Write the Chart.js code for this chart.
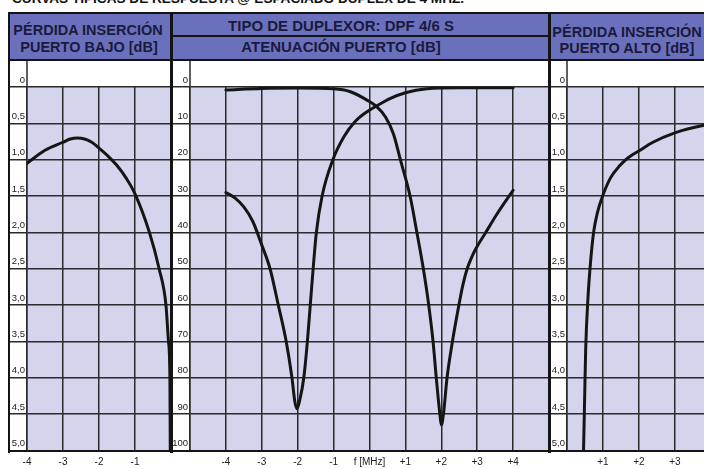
<!DOCTYPE html>
<html><head><meta charset="utf-8">
<script src="https://cdn.jsdelivr.net/npm/chart.js@4.4.0/dist/chart.umd.min.js"></script>
<style>
html,body{margin:0;padding:0;background:#fff;overflow:hidden;width:704px;height:469px;}
body{position:relative;font-family:"Liberation Sans",Arial,sans-serif;}
.abs{position:absolute;}
.hdr{position:absolute;background:#6b70bd;}
.ht{position:absolute;font-weight:bold;font-size:14.5px;line-height:16px;color:#1a1a3c;text-align:center;white-space:nowrap;}
.blk{position:absolute;background:#141414;}
.cw{position:absolute;top:61px;height:408px;}
canvas{display:block;background:#fff;}
</style></head><body>

<div class="abs" style="left:12px;top:-8px;font-weight:bold;font-size:13.6px;line-height:13px;color:#111;white-space:nowrap;">CURVAS TÍPICAS DE RESPUESTA @ ESPACIADO DUPLEX DE 4 MHZ.</div>

<div class="hdr" style="left:10px;top:14px;width:161px;height:46px"></div>
<div class="hdr" style="left:172px;top:14px;width:377px;height:46px"></div>
<div class="hdr" style="left:550px;top:14px;width:160px;height:46px"></div>

<div class="ht" style="left:10px;width:156px;top:22px">PÉRDIDA INSERCIÓN</div>
<div class="ht" style="left:10px;width:158px;top:38.5px">PUERTO BAJO [dB]</div>
<div class="ht" style="left:172px;width:338px;top:18px;font-size:15px">TIPO DE DUPLEXOR: DPF 4/6 S</div>
<div class="ht" style="left:172px;width:338px;top:38.5px;font-size:15px">ATENUACIÓN PUERTO [dB]</div>
<div class="ht" style="left:550px;width:154px;top:24px">PÉRDIDA INSERCIÓN</div>
<div class="ht" style="left:550px;width:154px;top:39.5px">PUERTO ALTO [dB]</div>

<div class="cw" style="left:10px;width:161px"><canvas id="cLow" width="161" height="408"></canvas></div>
<div class="cw" style="left:173px;width:376px"><canvas id="cMid" width="376" height="408"></canvas></div>
<div class="cw" style="left:550px;width:168px"><canvas id="cHigh" width="168" height="408"></canvas></div>

<div class="blk" style="left:8px;top:12px;width:700px;height:2px"></div>
<div class="blk" style="left:8px;top:59px;width:700px;height:2px"></div>
<div class="blk" style="left:172px;top:35px;width:377px;height:1.5px"></div>
<div class="blk" style="left:8px;top:12px;width:2px;height:441px"></div>
<div class="blk" style="left:170px;top:12px;width:3px;height:441px"></div>
<div class="blk" style="left:548px;top:12px;width:2.5px;height:441px"></div>
<div class="blk" style="left:8px;top:449.5px;width:700px;height:2.5px"></div>

<script>
// ---- data ----
const lossTickLabels = ['0','0,5','1,0','1,5','2,0','2,5','3,0','3,5','4,0','4,5','5,0'];
const attTickLabels = ['0','10','20','30','40','50','60','70','80','90','100'];

const lowTickValues = [-4,-3,-2,-1];
const lowTickLabels = ['-4','-3','-2','-1'];
const midTickValues = [-4,-3,-2,-1,0,1,2,3,4];
const midTickLabels = ['-4','-3','-2','-1','f [MHz]','+1','+2','+3','+4'];
const highTickValues = [1,2,3,4];
const highTickLabels = ['+1','+2','+3','+4'];

// insertion loss, low port (MHz offset, dB)
const lowPortFreq = [-4, -3.5, -3, -2.8, -2.6, -2.4, -2.2, -2, -1.75, -1.5, -1.25, -1, -0.6, -0.33, -0.14, -0.07, -0.03, -0.02];
const lowPortLoss = [1.05, 0.87, 0.76, 0.715, 0.70, 0.715, 0.76, 0.84, 0.95, 1.08, 1.25, 1.47, 2.0, 2.5, 3.0, 3.5, 4.0, 5.0];

// attenuation curve A (notch at +2 MHz)
const attAFreq = [-4, -3, -2, -1, -0.53, -0.07, 0.2, 0.45, 0.67, 0.86, 1.13, 1.32, 1.5, 1.65, 1.77, 1.86, 1.96, 2.0, 2.06, 2.16, 2.31, 2.49, 2.6, 2.72, 2.86, 3.02, 3.22, 3.56, 4.0];
const attAdB   = [0.8, 0.4, 0.3, 0.5, 1.3, 3.6, 5.4, 8.3, 13, 20, 30, 40, 50, 60, 70, 80, 90, 93, 90, 80, 70, 60, 54.5, 50, 46.5, 43.5, 40.3, 34.8, 28.4];

// attenuation curve B (notch at -2 MHz)
const attBFreq = [-4, -3.75, -3.5, -3.25, -3.0, -2.77, -2.54, -2.32, -2.16, -2.08, -2.02, -1.94, -1.83, -1.73, -1.65, -1.57, -1.48, -1.32, -1.02, -0.7, -0.4, -0.1, 0.2, 0.57, 1.0, 1.6, 2.5, 4.0];
const attBdB   = [29, 30.5, 33, 37, 43.5, 50, 60, 70, 80, 86.5, 88.5, 86, 80, 70, 60, 50, 40, 30, 20, 13.5, 9.5, 7, 5.2, 3.2, 1.6, 0.5, 0.2, 0.2];

// insertion loss, high port
const highPortFreq = [0.46, 0.49, 0.52, 0.58, 0.66, 0.74, 0.85, 0.99, 1.21, 1.47, 1.66, 2.03, 2.39, 3.0, 3.78, 4.2];
const highPortLoss = [5.0, 4.3, 3.6, 2.93, 2.38, 2.0, 1.72, 1.5, 1.25, 1.08, 0.99, 0.87, 0.76, 0.63, 0.53, 0.5];

// ---- drawing ----
const panelBg = {
  id: 'panelBg',
  beforeDraw(chart) {
    const {ctx, chartArea: a} = chart;
    ctx.save();
    ctx.fillStyle = '#d4d4ec';
    ctx.fillRect(a.left, a.top, a.right - a.left, a.bottom - a.top);
    ctx.strokeStyle = '#2a2a2a';
    ctx.lineWidth = 1.5;
    ctx.beginPath(); ctx.moveTo(a.left, 0); ctx.lineTo(a.left, a.top); ctx.stroke();
    ctx.restore();
  }
};

function pts(xs, ys) { return xs.map((x, i) => ({x: x, y: ys[i]})); }

function curve(xs, ys) {
  return {data: pts(xs, ys), borderColor: '#151515', borderWidth: 3, pointRadius: 0,
          fill: false, cubicInterpolationMode: 'monotone', borderCapStyle: 'round', borderJoinStyle: 'round'};
}

function makePanel(id, xMin, xMax, tickVals, tickLabs, yMax, yStep, yLabs, datasets) {
  new Chart(document.getElementById(id), {
    type: 'line',
    data: {datasets: datasets},
    plugins: [panelBg],
    options: {
      responsive: false, animation: false, events: [],
      layout: {padding: {top: 26, left: 0, right: 0, bottom: 0}},
      plugins: {legend: {display: false}, tooltip: {enabled: false}},
      scales: {
        x: {
          type: 'linear', min: xMin, max: xMax,
          afterFit: s => { s.height = 18.5; },
          ticks: {stepSize: 1, autoSkip: false, maxRotation: 0, padding: 0,
                  color: '#222', font: {family: 'Liberation Sans', size: 10},
                  callback: v => { const i = tickVals.indexOf(v); return i >= 0 ? tickLabs[i] : ''; }},
          grid: {color: '#2a2a2a', lineWidth: 1.5, drawTicks: true, tickLength: 6, tickColor: 'rgba(0,0,0,0)'},
          border: {display: false}
        },
        y: {
          type: 'linear', min: 0, max: yMax, reverse: true,
          afterFit: s => { s.width = 17; },
          ticks: {stepSize: yStep, autoSkip: false, padding: -15, labelOffset: -7,
                  color: '#222', font: {family: 'Liberation Sans', size: 9.5},
                  callback: v => yLabs[Math.round(v / yStep)]},
          grid: {color: '#2a2a2a', lineWidth: 1.5, tickLength: 17},
          border: {color: '#2a2a2a', width: 1.5}
        }
      }
    }
  });
}

makePanel('cLow', -4, 0, lowTickValues, lowTickLabels, 5, 0.5, lossTickLabels,
          [curve(lowPortFreq, lowPortLoss)]);
makePanel('cMid', -5, 5, midTickValues, midTickLabels, 100, 10, attTickLabels,
          [curve(attAFreq, attAdB), curve(attBFreq, attBdB)]);
makePanel('cHigh', 0, 4.2, highTickValues, highTickLabels, 5, 0.5, lossTickLabels,
          [curve(highPortFreq, highPortLoss)]);
</script>
</body></html>
